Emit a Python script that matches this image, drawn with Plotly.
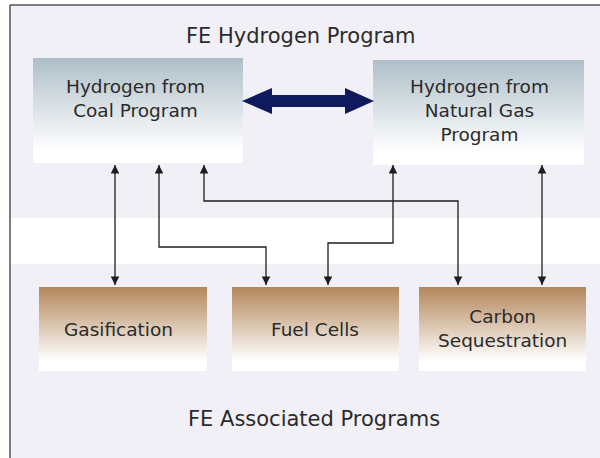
import plotly.graph_objects as go

W, H = 600, 458

# Titles
top_title = "FE Hydrogen Program"
bottom_title = "FE Associated Programs"

# Nodes: label, x0, y0, x1, y1, text center x, text center y, gradient top colour
top_labels = ["Hydrogen from<br>Coal Program", "Hydrogen from<br>Natural Gas<br>Program"]
top_boxes = [(33, 58, 243, 163), (373, 60, 584, 165)]
top_text_pos = [(135, 98), (479, 110)]

bottom_labels = ["Gasification", "Fuel Cells", "Carbon<br>Sequestration"]
bottom_boxes = [(39, 287, 207, 371), (232, 287, 399, 371), (419, 287, 586, 371)]
bottom_text_pos = [(118, 329), (315, 329), (502, 328)]

top_color = "#aebfc8"
bottom_color = "#b3875a"

# Connectors between programs (polyline points, arrow at both ends)
connectors = [
    [(115, 165), (115, 285)],
    [(159, 165), (159, 247), (266, 247), (266, 285)],
    [(204, 165), (204, 201), (458, 201), (458, 285)],
    [(393, 165), (393, 243), (328, 243), (328, 285)],
    [(542, 165), (542, 285)],
]

# Big double arrow between the two hydrogen programs
big_arrow = [(242, 101), (272, 88), (272, 95), (345, 95), (345, 88), (374, 101),
             (345, 114), (345, 107), (272, 107), (272, 114), (242, 101)]

fig = go.Figure()

shapes = [
    dict(type="rect", x0=10, y0=5, x1=W, y1=H, fillcolor="#f1f0f7", line_width=0, layer="below"),
    dict(type="rect", x0=10, y0=218, x1=W, y1=264, fillcolor="#ffffff", line_width=0, layer="below"),
    dict(type="line", x0=10, y0=5, x1=10, y1=H, line=dict(color="#555555", width=1.5)),
    dict(type="line", x0=10, y0=5, x1=W, y1=5, line=dict(color="#555555", width=1.5)),
]


def add_box(b, c):
    x0, y0, x1, y1 = b
    fig.add_trace(go.Scatter(
        x=[x0, x1, x1, x0, x0], y=[y0, y0, y1, y1, y0], mode="lines",
        line=dict(width=0), fill="toself",
        fillgradient=dict(type="vertical", start=y0, stop=y1,
                          colorscale=[[0, c], [0.88, "#ffffff"], [1, "#ffffff"]]),
        hoverinfo="skip", showlegend=False))


for b in top_boxes:
    add_box(b, top_color)
for b in bottom_boxes:
    add_box(b, bottom_color)

fig.add_trace(go.Scatter(
    x=[p[0] for p in big_arrow], y=[p[1] for p in big_arrow], mode="lines",
    line=dict(width=0), fill="toself", fillcolor="#0e1a5c",
    hoverinfo="skip", showlegend=False))

annotations = []
for pts in connectors:
    fig.add_trace(go.Scatter(
        x=[p[0] for p in pts], y=[p[1] for p in pts], mode="lines",
        line=dict(color="#1e1e1e", width=1.3), hoverinfo="skip", showlegend=False))
    for tip, nxt in ((pts[0], pts[1]), (pts[-1], pts[-2])):
        dy = 10 if nxt[1] > tip[1] else -10
        annotations.append(dict(
            x=tip[0], y=tip[1], ax=tip[0], ay=tip[1] + dy, xref="x", yref="y",
            axref="x", ayref="y", text="", showarrow=True, arrowhead=2,
            arrowsize=1.3, arrowwidth=1.3, arrowcolor="#1e1e1e"))

font_title = dict(family="DejaVu Sans", size=21, color="#2b2b2b")
font_box = dict(family="DejaVu Sans", size=18.5, color="#2b2b2b")

annotations.append(dict(x=300, y=36, text=top_title, showarrow=False, font=font_title,
                        xref="x", yref="y"))
annotations.append(dict(x=314, y=419, text=bottom_title, showarrow=False, font=font_title,
                        xref="x", yref="y"))
for lab, (tx, ty) in zip(top_labels + bottom_labels, top_text_pos + bottom_text_pos):
    annotations.append(dict(x=tx, y=ty, text=lab, showarrow=False, font=font_box,
                            xref="x", yref="y"))

fig.update_layout(
    width=W, height=H, margin=dict(l=0, r=0, t=0, b=0),
    paper_bgcolor="#ffffff", plot_bgcolor="#ffffff",
    xaxis=dict(range=[0, W], visible=False, fixedrange=True),
    yaxis=dict(range=[H, 0], visible=False, fixedrange=True),
    shapes=shapes, annotations=annotations, showlegend=False,
)

fig.write_html("out.html", config={"displayModeBar": False},
               post_script="document.body.style.margin='0px';document.body.style.overflow='hidden';")
